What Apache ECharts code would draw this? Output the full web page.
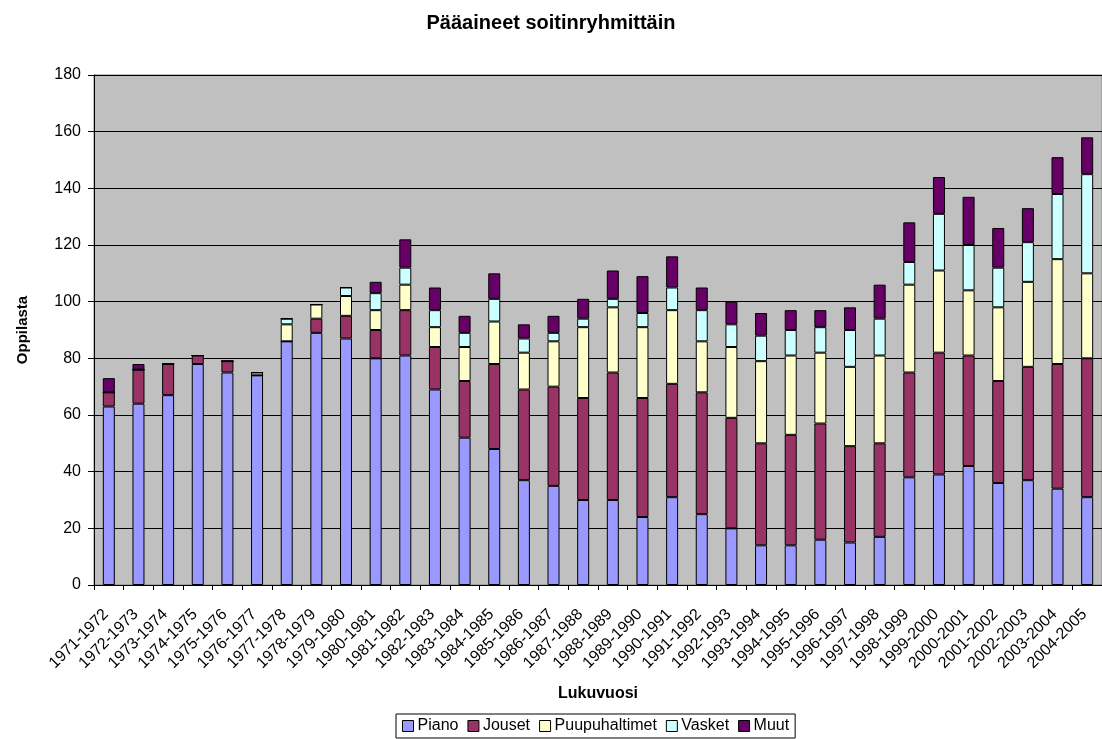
<!DOCTYPE html>
<html><head><meta charset="utf-8">
<script src="https://cdn.jsdelivr.net/npm/echarts@6/dist/echarts.min.js"></script>
<style>html,body{margin:0;padding:0;background:#fff}#c{width:1102px;height:739px}</style>
</head><body><div id="c"></div>
<script>
const categories = ["1971-1972","1972-1973","1973-1974","1974-1975","1975-1976","1976-1977","1977-1978","1978-1979","1979-1980","1980-1981","1981-1982","1982-1983","1983-1984","1984-1985","1985-1986","1986-1987","1987-1988","1988-1989","1989-1990","1990-1991","1991-1992","1992-1993","1993-1994","1994-1995","1995-1996","1996-1997","1997-1998","1998-1999","1999-2000","2000-2001","2001-2002","2002-2003","2003-2004","2004-2005"];
const piano =         [63,64,67,78,75,74,86,89,87,80,81,69,52,48,37,35,30,30,24,31,25,20,14,14,16,15,17,38,39,42,36,37,34,31];
const jouset =        [5,12,11,3,4,0,0,5,8,10,16,15,20,30,32,35,36,45,42,40,43,39,36,39,41,34,33,37,43,39,36,40,44,49];
const puupuhaltimet = [0,0,0,0,0,1,6,5,7,7,9,7,12,15,13,16,25,23,25,26,18,25,29,28,25,28,31,31,29,23,26,30,37,30];
const vasket =        [0,0,0,0,0,0,2,0,3,6,6,6,5,8,5,3,3,3,5,8,11,8,9,9,9,13,13,8,20,16,14,14,23,35];
const muut =          [5,2,0,0,0,0,0,0,0,4,10,8,6,9,5,6,7,10,13,11,8,8,8,7,6,8,12,14,13,17,14,12,13,13];
const yTicks = [0,20,40,60,80,100,120,140,160,180];

const font = 'Liberation Sans, Arial, sans-serif';
const seriesDefs = [
  ['Piano', piano, '#9999FF'],
  ['Jouset', jouset, '#993366'],
  ['Puupuhaltimet', puupuhaltimet, '#FFFFCC'],
  ['Vasket', vasket, '#CCFFFF'],
  ['Muut', muut, '#660066']
];
const chart = echarts.init(document.getElementById('c'), null, {renderer:'canvas'});
chart.setOption({
  animation:false,
  backgroundColor:'#fff',
  textStyle:{fontFamily:font},
  title:{text:'Pääaineet soitinryhmittäin',left:'center',top:8,textStyle:{fontFamily:font,fontSize:20,fontWeight:'bold',color:'#000'}},
  legend:{left:396,top:714,orient:'horizontal',borderColor:'#000',borderWidth:1,padding:[4,6,4,6],itemGap:9,itemWidth:11,itemHeight:11,icon:'rect',
    textStyle:{fontFamily:font,fontSize:16,color:'#000',padding:[0,0,0,-1]},
    data:seriesDefs.map(s=>({name:s[0],itemStyle:{borderColor:'#000',borderWidth:1}}))},
  grid:{left:94,top:75,width:1008,height:510,show:true,backgroundColor:'#C0C0C0',borderColor:'#808080',borderWidth:1,containLabel:false},
  xAxis:{type:'category',data:categories,boundaryGap:true,
    name:'Lukuvuosi',nameLocation:'middle',nameGap:101,nameTextStyle:{fontFamily:font,fontSize:16,fontWeight:'bold',color:'#000'},
    axisLine:{show:true,lineStyle:{color:'#000',width:1}},
    axisTick:{show:true,length:5,lineStyle:{color:'#000'}},
    axisLabel:{rotate:45,interval:0,fontFamily:font,fontSize:16,color:'#000',margin:24,padding:[0,4,0,0]}},
  yAxis:{type:'value',min:0,max:180,interval:20,
    name:'Oppilasta',nameLocation:'middle',nameGap:64,nameTextStyle:{fontFamily:font,fontSize:15,fontWeight:'bold',color:'#000'},
    axisLine:{show:true,lineStyle:{color:'#000',width:1}},
    axisTick:{show:true,length:6,lineStyle:{color:'#000'}},
    axisLabel:{fontFamily:font,fontSize:16,color:'#000',margin:13,formatter:v=>yTicks.includes(v)?String(v):''},
    splitLine:{show:true,lineStyle:{color:'#000',width:1}}},
  series:seriesDefs.map(s=>({name:s[0],type:'bar',stack:'total',data:s[1],barWidth:12,
    itemStyle:{color:s[2],borderColor:'#000',borderWidth:1}}))
});
</script></body></html>
